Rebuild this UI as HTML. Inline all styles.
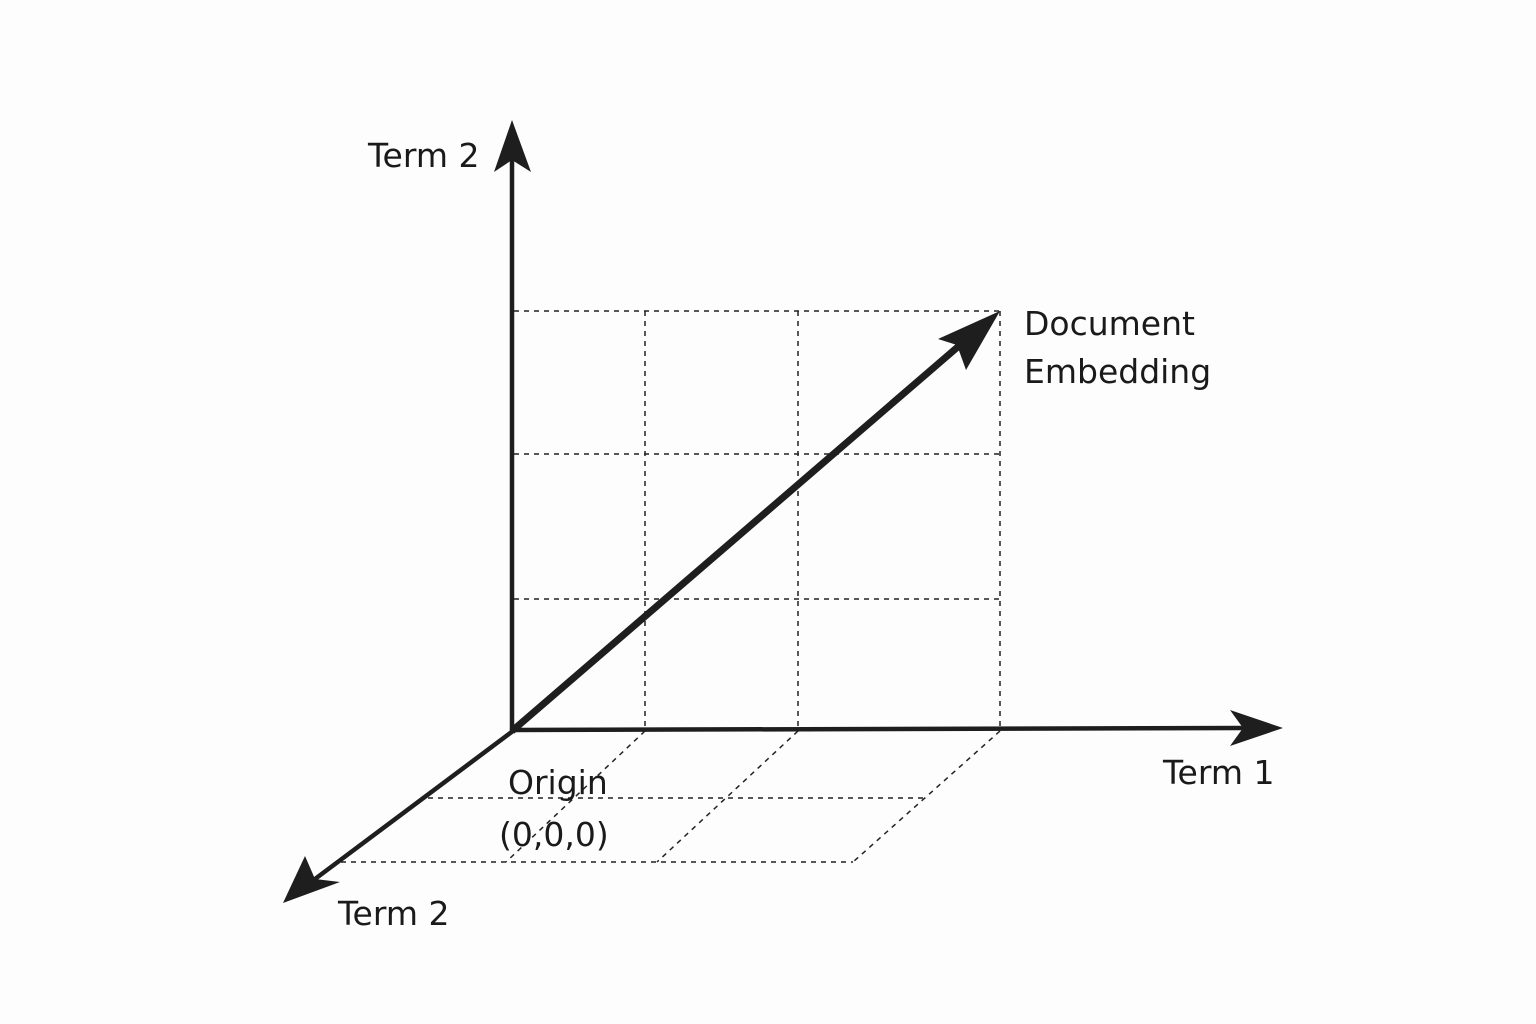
<!DOCTYPE html>
<html><head><style>html,body{margin:0;padding:0;background:#fdfdfd}svg{display:block}</style></head><body>
<svg width="1536" height="1024" viewBox="0 0 1536 1024" xmlns="http://www.w3.org/2000/svg">
<rect width="1536" height="1024" fill="#fdfdfd"/>
<g stroke="#222" stroke-width="1.5" stroke-dasharray="5,5" fill="none">
<line x1="514" y1="311" x2="1000" y2="311"/>
<line x1="514" y1="454" x2="1000" y2="454"/>
<line x1="514" y1="599" x2="1000" y2="599"/>
<line x1="645" y1="311" x2="645" y2="731"/>
<line x1="798" y1="311" x2="798" y2="731"/>
<line x1="1000" y1="311" x2="1000" y2="731"/>
<line x1="645" y1="731" x2="506" y2="862"/>
<line x1="798" y1="731" x2="657" y2="862"/>
<line x1="1000" y1="731" x2="853" y2="862"/>
<line x1="428" y1="798" x2="925" y2="798"/>
<line x1="341" y1="862" x2="853" y2="862"/>
</g>
<g stroke="#1e1e1e" fill="none" stroke-width="4.5">
<line x1="512" y1="733" x2="512" y2="160"/>
<line x1="510" y1="730" x2="1245" y2="728"/>
<line x1="513" y1="731" x2="315" y2="879"/>
<line x1="512" y1="731" x2="960" y2="345" stroke-width="7"/>
</g>
<g fill="#1e1e1e">
<polygon points="512,120 494,172 512,160 531,172"/>
<polygon points="1283,728 1230,710 1243,728 1230,746"/>
<polygon points="283,903 305,856 315,879 340,882"/>
<polygon points="1000,311 938,339 957,345 966,370"/>
</g>
<g font-family="'DejaVu Sans','Liberation Sans',sans-serif" font-size="33" fill="#1a1a1a">
<text x="368" y="167">Term 2</text>
<text x="1024" y="335">Document</text>
<text x="1024" y="383">Embedding</text>
<text x="1163" y="784">Term 1</text>
<text x="508" y="794">Origin</text>
<text x="499" y="846">(0,0,0)</text>
<text x="338" y="925">Term 2</text>
</g>
</svg>
</body></html>
